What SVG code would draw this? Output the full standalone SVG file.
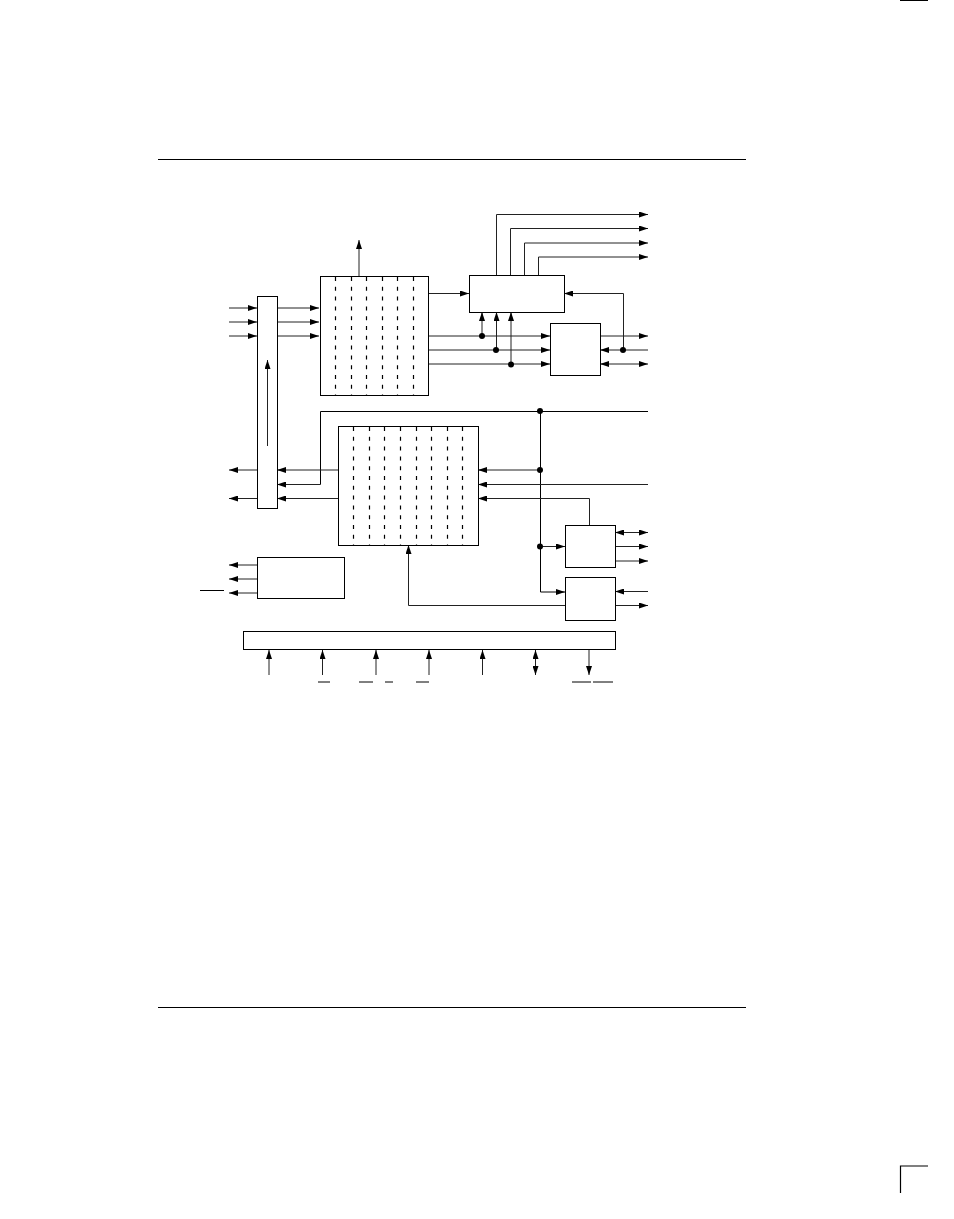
<svg xmlns="http://www.w3.org/2000/svg" width="954" height="1219" viewBox="0 0 954 1219">
<style>
.b{fill:#fff;stroke:#000;stroke-width:1}
.c{fill:none;stroke:#222;stroke-width:1}
.d{stroke:#000;stroke-width:1.200;stroke-dasharray:4 5.800;fill:none}
.r{stroke:#000;stroke-width:1;fill:none}
.k{stroke:#000;stroke-width:1.200;fill:none}
</style>
<defs>
<marker id="a" markerUnits="userSpaceOnUse" markerWidth="9" markerHeight="6" refX="9" refY="3" orient="auto-start-reverse"><path d="M0 0L9 3L0 6z" fill="#000"/></marker>
</defs>
<rect width="954" height="1219" fill="#fff"/>
<g id="page"><path class="r" d="M158 159.500H746M158 1007.500H746"/><path class="k" d="M900 0.500H928M928 1166H900.500V1193"/></g>
<g id="connectors">
<path class="c" marker-end="url(#a)" d="M229 308H257"/><path class="c" marker-end="url(#a)" d="M229 322H257"/><path class="c" marker-end="url(#a)" d="M229 336H257"/>
<path class="c" marker-end="url(#a)" d="M277 308H319"/><path class="c" marker-end="url(#a)" d="M277 322H319"/><path class="c" marker-end="url(#a)" d="M277 336H319"/>
<path class="c" marker-end="url(#a)" d="M359 276V240"/>
<path class="c" marker-end="url(#a)" d="M428 293.500H469"/>
<path class="c" marker-end="url(#a)" d="M496.500 275V214.500H648"/><path class="c" marker-end="url(#a)" d="M510.500 275V228.500H648"/><path class="c" marker-end="url(#a)" d="M524.500 275V243H648"/><path class="c" marker-end="url(#a)" d="M538.500 275V257H648"/>
<path class="c" marker-end="url(#a)" d="M428 336H550"/><path class="c" marker-end="url(#a)" d="M428 350H550"/><path class="c" marker-end="url(#a)" d="M428 364H550"/>
<path class="c" marker-end="url(#a)" d="M482 336V312"/><path class="c" marker-end="url(#a)" d="M496.500 350V312"/><path class="c" marker-end="url(#a)" d="M511 364V312"/>
<path class="c" marker-end="url(#a)" d="M600 336H648"/><path class="c" marker-end="url(#a)" d="M648 350H600"/><path class="c" marker-start="url(#a)" marker-end="url(#a)" d="M600 364H648"/>
<path class="c" marker-end="url(#a)" d="M623.500 350V293.500H564"/>
<path class="r" d="M648 411.500H320.500V484.500"/><path class="c" marker-end="url(#a)" d="M320.500 484.500H277"/>
<path class="c" marker-end="url(#a)" d="M338 470H277"/><path class="c" marker-end="url(#a)" d="M338 498.500H277"/>
<path class="c" marker-end="url(#a)" d="M257 470H229"/><path class="c" marker-end="url(#a)" d="M257 498.500H229"/>
<path class="r" marker-end="url(#a)" d="M540.500 411.500V592H565"/>
<path class="c" marker-end="url(#a)" d="M540.500 470H478"/><path class="c" marker-end="url(#a)" d="M648 484.500H478"/>
<path class="c" marker-end="url(#a)" d="M589.500 525V498.500H478"/>
<path class="c" marker-end="url(#a)" d="M540.500 546.500H565"/>
<path class="c" marker-start="url(#a)" marker-end="url(#a)" d="M615 532.500H648"/><path class="c" marker-end="url(#a)" d="M615 546.500H648"/><path class="c" marker-end="url(#a)" d="M615 561H648"/>
<path class="c" marker-end="url(#a)" d="M648 591.500H615"/><path class="c" marker-end="url(#a)" d="M615 605.500H648"/>
<path class="c" marker-end="url(#a)" d="M565 605.500H408.500V545"/>
<path class="c" marker-end="url(#a)" d="M257 565H229"/><path class="c" marker-end="url(#a)" d="M257 579H229"/><path class="c" marker-end="url(#a)" d="M257 593H229"/>
<path class="c" marker-end="url(#a)" d="M269 675V650"/><path class="c" marker-end="url(#a)" d="M322.500 675V650"/><path class="c" marker-end="url(#a)" d="M376 675V650"/><path class="c" marker-end="url(#a)" d="M429 675V650"/><path class="c" marker-end="url(#a)" d="M482.500 675V650"/>
<path class="c" marker-start="url(#a)" marker-end="url(#a)" d="M535.500 650V675"/><path class="c" marker-end="url(#a)" d="M589 650V675"/>
<g fill="#000"><circle cx="482" cy="336" r="3"/><circle cx="496" cy="350" r="3"/><circle cx="511" cy="364.500" r="3"/><circle cx="623" cy="350" r="3"/><circle cx="540" cy="411" r="3"/><circle cx="540" cy="470" r="3"/><circle cx="540" cy="546.500" r="3"/></g>
</g>
<g id="bus"><rect class="b" x="257.500" y="296.500" width="20" height="212"/><path class="c" marker-end="url(#a)" d="M267.500 446V360"/></g>
<g id="array1"><rect class="b" x="320.500" y="276.500" width="108" height="119"/><path class="d" d="M335.500 277V395M351.500 277V395M366.500 277V395M382.500 277V395M397.500 277V395M413.500 277V395"/></g>
<g id="array2"><rect class="b" x="338.500" y="426.500" width="140" height="119"/><path class="d" d="M353.500 427V545M369.500 427V545M384.500 427V545M400.500 427V545M416.500 427V545M431.500 427V545M447.500 427V545M462.500 427V545"/></g>
<g id="box-top"><rect class="b" x="469.500" y="275.500" width="95" height="37"/></g>
<g id="box-mid"><rect class="b" x="550.500" y="323.500" width="50" height="52"/></g>
<g id="box-low1"><rect class="b" x="565.500" y="525.500" width="50" height="42"/></g>
<g id="box-low2"><rect class="b" x="565.500" y="577.500" width="50" height="43"/></g>
<g id="box-left"><rect class="b" x="257.500" y="557.500" width="87" height="41"/></g>
<g id="box-bottom"><rect class="b" x="243.500" y="631.500" width="372" height="18"/></g>
<g id="overbars"><path class="r" d="M200 590.500H224M318 682H330M359 682H373M385 682H393M416 682H429M572 682H591M593 682H613"/></g>
</svg>
